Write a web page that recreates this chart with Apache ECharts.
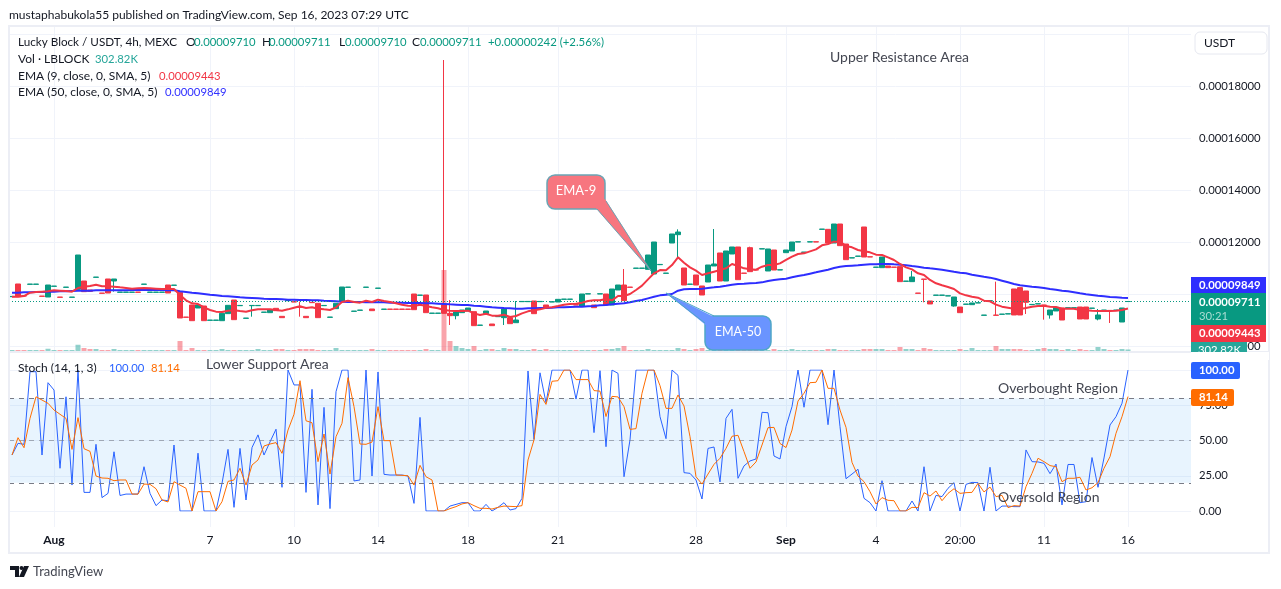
<!DOCTYPE html>
<html><head><meta charset="utf-8">
<style>html,body{margin:0;padding:0;background:#fff}#c{width:1281px;height:589px}</style>
<script src="https://cdn.jsdelivr.net/npm/echarts@6/dist/echarts.min.js"></script>
</head><body><div id="c"></div>
<script>
// prices are in units of 0.00000001 USDT
const tickBars=[7,33,47,61,76,91,114,129,144,158,172,186];
const tickLabels=['Aug','7','10','14','18','21','28','Sep','4','20:00','11','16'];
const opens=[9897,10385,9933,10372,10372,9920,9885,10295,9882,10256,
9872,10179,10500,10154,10641,10036,10577,10500,10064,10064,
10064,10074,10372,10064,10064,10064,10346,10333,10064,9113,
9577,9461,9538,8987,8987,8974,9244,9769,9551,9064,
9551,9551,9295,9282,9449,9141,9743,9702,9497,9141,
9677,9641,9551,9103,9436,9731,10256,9333,9372,10256,
9423,10218,9410,9420,9420,9420,9420,10000,9949,9961,
9256,9256,9577,9256,9167,9282,9346,9320,8795,9243,
8846,9128,9090,9090,8897,9705,9705,9731,9705,9577,
9692,9692,9795,9795,9587,9538,10000,9577,10000,10000,
9577,10154,10346,10266,10987,10987,10949,10769,11128,10795,
11961,12282,11000,10372,10731,10308,10461,11077,11577,10500,
11538,11808,10805,11782,10933,11731,10885,11692,10923,11590,
11654,12000,11602,12000,12010,12487,12487,11961,12692,11923,
11385,11449,12577,11433,11026,11013,11077,11036,11052,10487,
10475,10036,10574,9731,9949,9949,9923,9539,9500,9603,
9590,9654,9180,9731,9190,9218,9231,10193,10244,10116,
9590,9616,9574,9193,9347,9462,9462,9462,9500,9500,
9449,9039,9372,9369,9372,8923,9710];
const closes=[9907,9897,9923,10382,10382,9910,10346,10305,9872,10266,
9882,11500,10090,10102,10651,10026,10038,10577,10074,10074,
10074,10064,10382,10074,10074,10074,10038,10343,9077,9103,
8974,9577,8974,8997,8997,9256,9564,9013,9561,9074,
9561,9561,9305,9385,9359,9090,9753,9692,9487,9090,
9667,9090,9561,9113,9641,10269,10266,9343,9382,10266,
9359,10228,9420,9410,9410,9410,9410,9397,9959,9282,
9266,9266,9256,9167,9308,9385,9461,8782,8805,9346,
8782,9138,9423,8859,9000,9715,9715,9243,9715,9449,
9702,9795,9805,9805,9577,10000,10010,9474,10010,9577,
10192,10346,9744,10256,10997,10997,11500,12000,11138,10805,
12308,12384,10346,10382,10346,9961,11115,11154,10500,11654,
11808,10551,10795,10859,10923,11741,11731,10923,10933,11692,
12000,12010,11612,12010,12000,12497,11961,12692,11859,11320,
11395,11459,11423,11423,11036,11423,11013,11026,10475,10497,
10654,10026,10564,9616,9959,9959,9933,9885,9282,9613,
9654,9664,9190,9741,9180,9228,9241,9193,9193,9680,
9600,9626,9564,9385,9487,9000,9472,9472,9039,9039,
9459,9193,9382,9359,9382,9462,9711];
const wickBars=[17,40,48,72,73,74,82,84,102,111,117,123,150,152,157,164,169,172,173,181,183];
const wickHighs=[null,null,9705,19000,9769,null,null,9731,10961,12487,12500,11820,10885,null,null,10475,null,null,null,9423,null];
const wickLows=[10090,9128,9128,null,8808,9026,8808,null,null,11410,null,null,null,9680,9513,null,9231,9013,9052,8987,8885];
const ema9=[9897,9897,9923,10051,10077,10090,10102,10141,10128,10115,
10090,10231,10282,10308,10359,10295,10295,10282,10256,10231,
10205,10218,10231,10218,10205,10192,10192,10192,9961,9756,
9641,9615,9487,9385,9321,9308,9359,9372,9346,9321,
9372,9410,9410,9410,9385,9359,9410,9474,9526,9461,
9487,9436,9410,9385,9487,9692,9743,9692,9667,9743,
9692,9782,9731,9692,9641,9590,9551,9538,9590,9538,
9487,9449,9385,9359,9346,9346,9359,9256,9192,9243,
9167,9167,9205,9115,9154,9256,9333,9372,9410,9474,
9487,9538,9590,9615,9628,9667,9731,9756,9756,9808,
9756,9923,9923,10000,10154,10320,10564,10795,10923,10910,
11115,11410,11205,11025,10897,10731,10795,10859,10923,10987,
11154,11077,10987,10949,10936,11051,11115,11115,11179,11308,
11436,11538,11564,11641,11718,11872,11923,12013,12013,11846,
11795,11692,11641,11603,11513,11500,11410,11308,11154,11026,
10949,10795,10731,10539,10411,10334,10270,10193,10026,9949,
9898,9859,9744,9718,9590,9513,9475,9436,9423,9462,
9513,9539,9552,9513,9500,9436,9436,9436,9385,9372,
9359,9347,9347,9347,9359,9385,9443];
const ema50=[10051,10051,10064,10064,10077,10077,10090,10090,10102,10102,
10115,10128,10128,10128,10141,10141,10141,10141,10141,10141,
10154,10154,10154,10154,10154,10154,10141,10141,10102,10077,
10051,10026,10000,9974,9949,9923,9910,9897,9872,9859,
9846,9833,9820,9808,9808,9795,9782,9782,9769,9769,
9756,9756,9743,9731,9718,9705,9692,9692,9692,9679,
9679,9679,9679,9667,9667,9667,9654,9654,9654,9641,
9641,9628,9615,9602,9590,9577,9577,9551,9538,9513,
9487,9474,9461,9449,9436,9436,9449,9449,9461,9461,
9474,9487,9487,9500,9513,9513,9526,9538,9564,9577,
9602,9628,9641,9679,9731,9769,9833,9897,9948,9974,
10000,10128,10179,10192,10192,10205,10231,10256,10282,10320,
10359,10385,10397,10410,10423,10448,10500,10538,10564,10590,
10641,10692,10731,10782,10833,10885,10936,11000,11051,11077,
11090,11103,11129,11141,11141,11154,11154,11141,11129,11103,
11077,11052,11013,10987,10962,10936,10898,10859,10821,10795,
10744,10706,10667,10629,10577,10513,10449,10385,10334,10308,
10282,10257,10231,10193,10167,10129,10103,10065,10026,9988,
9962,9936,9911,9885,9872,9859,9849];
const volumesK=[200,200,200,200,200,200,450,200,200,200,
200,1250,600,400,400,200,200,400,200,200,
200,200,200,200,200,200,200,200,2000,200,
600,200,200,200,200,400,200,200,200,200,
200,400,200,200,400,400,200,200,400,400,
400,200,200,200,600,200,200,200,200,200,
400,200,200,200,200,200,200,200,200,400,
200,200,16200,2000,1000,600,400,1000,200,400,
400,200,600,400,400,200,200,400,200,400,
200,200,200,200,200,200,200,200,200,400,
400,600,1000,200,200,200,400,200,200,200,
200,600,400,200,400,600,200,1200,400,400,
200,600,200,400,200,200,200,400,200,200,
400,200,200,200,200,200,400,400,200,200,
200,200,400,400,400,400,200,200,800,400,
400,200,600,400,200,200,200,200,400,200,
600,200,200,200,1000,400,400,400,400,200,
200,400,600,400,400,200,400,200,400,200,
200,800,400,200,200,400,302.82];
const stochK=[39.7,48,47.3,98.8,98.8,39.7,91,85.8,30.3,81,
18.4,100,13.2,13.2,47.3,9.5,12.5,42,11,12,
12,12,31.4,12.5,3.8,7.8,7.3,46.8,0,0,
0,41,0,0,0,19.6,43.7,2.6,44.4,7.8,
45,54,39.7,49,58,16.8,100,89.4,89.4,13.2,
86.3,4.3,73.5,1.7,84.6,100,100,21.3,22,100,
24.8,98.6,26,25.5,25.5,25.5,24.8,5.4,66.4,0,
0,0,0,3.5,4.7,5.9,5.9,0,0,4.7,
0,2.6,5.9,0.7,1.7,9,99.3,50.8,98,76.8,
100,100,100,100,79.4,100,100,55.6,99.5,45.6,
100,97.6,24.3,50.4,100,100,100,100,66.9,51.3,
100,96.2,27.2,26.7,22,8.5,44.4,45.4,20.6,65.7,
72.1,23.2,32,35.5,36.9,70,69.7,39,36.9,59.9,
74,100,73.6,100,100,100,61.2,100,59.8,22.9,
26.2,29.6,9,5.9,0,21.5,0,0,0,0,
7.1,0,31.4,0,11.1,10.2,16.1,20.1,0,18.9,
20.3,20.1,0,31,0,3.5,3.5,3.1,3.1,43.3,
35,34.8,33.8,26.5,33.3,4.3,33,33,5.9,6.6,
37.9,16.8,37.6,61,66.9,76.4,100];
const stochD=[39.7,52,44.9,65.7,81,78.7,76.4,71.6,68.6,65.7,
43.7,66.2,44.2,42.3,24.8,23.4,23.2,21.5,22,22,
12,12,19.1,18.9,15.8,7.8,6.4,20.8,18.4,16.1,
0,13.7,13.7,13.7,0,6.6,21,22,30.3,18.4,
32.6,36.2,46.1,47.5,48.5,40.9,57.4,68.6,92.4,64,
62.6,35,54.6,26.2,52.7,62.2,94.6,74,47.5,47.3,
48.9,74,49.9,49.9,25.5,25.3,25,18.4,32.4,24.3,
22,0,0,1.7,3.1,5,5.9,3.8,1.9,1.9,
1.4,2.6,3.5,3.3,3.1,3.8,36.2,50.4,82.7,75.6,
92,92.4,100,100,93.2,93.2,93.2,85.4,85,67,
81.3,80.9,74,57.9,58.4,83.5,100,100,88.9,72.8,
72.8,82.3,74.5,52.7,24.3,19.1,26.2,33.1,37.4,44.4,
53,53.7,42.1,30.3,34.8,46.8,59.1,59.3,47.9,45,
57.4,78,83.5,91,91.3,100,87,87,71.6,59.3,
34.5,24.8,20.8,13.7,5,9.5,7.6,7.3,0,0,
2.6,2.4,13,10.6,14.2,7.3,12.5,15.8,12.5,13,
13.2,19.6,13.5,17,10.2,11.1,2.4,3.8,3.5,17.3,
26.7,37.4,35,32.2,31.4,20.8,23.2,23.2,23.9,14.9,
16.5,20.1,30.3,38.5,55.1,66.9,81.14];

const FONT='Lato, "Open Sans", sans-serif';
const NUM=11.3;
const UP='#089981',DOWN='#f23645',GRID='#f0f3fa',TXT='#131722',FRAME='#eceef5';
const BARS=197;
const categories=Array.from({length:BARS},(_,i)=>{const k=tickBars.indexOf(i);return k>=0?tickLabels[k]:''+i;});
const candles=opens.map((o,i)=>{
  const k=wickBars.indexOf(i);let lo=Math.min(o,closes[i]),hi=Math.max(o,closes[i]);
  if(k>=0){if(wickLows[k]!==null)lo=wickLows[k];if(wickHighs[k]!==null)hi=wickHighs[k];}
  return [o,closes[i],lo,hi];
});
const isTick=i=>tickBars.indexOf(i)>=0;
function xAxis(idx,labels,lines){return {type:'category',gridIndex:idx,data:categories,boundaryGap:true,
  axisLine:{show:false},axisTick:{show:false},
  axisLabel:{show:labels,interval:(i)=>isTick(i),color:TXT,fontFamily:FONT,fontSize:12,margin:7,
    formatter:v=>(v==='Aug'||v==='Sep')?'{b|'+v+'}':v,rich:{b:{fontWeight:'bold',fontFamily:FONT,fontSize:12,color:TXT}}},
  splitLine:{show:lines,interval:(i)=>isTick(i),alignWithLabel:true,lineStyle:{color:GRID,width:1}}};}
function T(x,y,text,fill,size,weight,align){return {type:'text',z:100,silent:true,x:x,y:y,
  style:{text:text,fill:fill||TXT,font:(weight||'normal')+' '+(size||12)+'px '+FONT,textAlign:align||'left',textVerticalAlign:'middle'}};}
function R(x,y,w,h,fill,r,stroke,lw,z){return {type:'rect',z:z||99,silent:true,shape:{x:x,y:y,width:w,height:h,r:r||0},
  style:{fill:fill,stroke:stroke||null,lineWidth:lw||0}};}
const GREENT='#089981';
const graphics=[
  R(9,26,1260,527,'rgba(0,0,0,0)',0,FRAME,2,90),
  {type:'line',z:90,silent:true,shape:{x1:9,y1:352,x2:1269,y2:352},style:{stroke:FRAME,lineWidth:2}},
  T(9,15,'mustaphabukola55 published on TradingView.com, Sep 16, 2023 07:29 UTC',TXT,12),
  T(18,42,'Lucky Block / USDT, 4h, MEXC',TXT,11.7),
  T(186,42,'O',TXT,12),T(194,42,'0.00009710',GREENT,NUM),
  T(262,42,'H',TXT,12),T(269,42,'0.00009711',GREENT,NUM),
  T(339,42,'L',TXT,12),T(345,42,'0.00009710',GREENT,NUM),
  T(412,42,'C',TXT,12),T(420,42,'0.00009711',GREENT,NUM),
  T(488,42,'+0.00000242 (+2.56%)',GREENT,11.4),
  T(18,59,'Vol · LBLOCK',TXT,12),T(95,59,'302.82K','#26a69a',NUM),
  T(18,76,'EMA (9, close, 0, SMA, 5)',TXT,12),T(159,76,'0.00009443','#f23645',NUM),
  T(18,92,'EMA (50, close, 0, SMA, 5)',TXT,12),T(165,92,'0.00009849','#3030ff',NUM),
  T(18,368,'Stoch (14, 1, 3)',TXT,12),T(109,368,'100.00','#2962ff',NUM),T(151,368,'81.14','#ff6d00',NUM),
  T(830,57,'Upper Resistance Area','#434651',14),
  T(206,364,'Lower Support Area','#434651',14),
  T(998,388,'Overbought Region','#434651',14),
  T(998,497,'Oversold Region','#434651',14),
  R(1195,32,72,22,'#fff',5,'#e6e8f0',1,99),T(1204,43,'USDT',TXT,12),
  R(1191,342,56,10,'#26a69a',0,null,0,95),T(1198,350,'302.82K','#fff',NUM),
  R(1191,352,78,8,'#fff',0,null,0,99),
  R(1191,277,75,16,'#2e2eff',0,null,0,96),T(1199,285,'0.00009849','#fff',NUM,'bold'),
  R(1191,293,75,32,'#089981',0,null,0,96),T(1199,302,'0.00009711','#fff',NUM,'bold'),T(1199,316,'30:21','#a9dcd2',NUM),
  R(1191,325,75,17,'#f23645',0,null,0,96),T(1199,333,'0.00009443','#fff',NUM,'bold'),
  R(1191,362,49,17,'#2962ff',2,null,0,96),T(1199,370.5,'100.00','#fff',NUM,'bold'),
  R(1191,389,43,17,'#ff6d00',2,null,0,96),T(1199,397.5,'81.14','#fff',NUM,'bold'),
  R(547,175,58,34,'#f7767f',8,'#6aa5b5',1.5,97),
  {type:'polygon',z:98,silent:true,shape:{points:[[595,207],[605,199],[651,271]]},style:{fill:'#f7767f'}},
  {type:'polyline',z:98,silent:true,shape:{points:[[597,209],[651,271],[606,201]]},style:{stroke:'#6aa5b5',lineWidth:1,fill:null}},
  T(576,191,'EMA-9','#fff',13,'normal','center'),
  R(705,316,66,34,'#6a94ff',8,'#4fa6c7',1.5,97),
  {type:'polygon',z:98,silent:true,shape:{points:[[707,326],[716,318],[666,293]]},style:{fill:'#6a94ff'}},
  {type:'polyline',z:98,silent:true,shape:{points:[[705,323],[666,293],[714,316]]},style:{stroke:'#4fa6c7',lineWidth:1,fill:null}},
  T(738,332,'EMA-50','#fff',12.5,'normal','center'),
  {type:'polygon',z:99,silent:true,shape:{points:[[10,566],[19,566],[19,577],[15,577],[15,570],[10,570]]},style:{fill:'#131722'}},
  {type:'circle',z:99,silent:true,shape:{cx:21.5,cy:568,r:2},style:{fill:'#131722'}},
  {type:'polygon',z:99,silent:true,shape:{points:[[24,566],[29,566],[24,577],[19,577]]},style:{fill:'#131722'}},
  T(33,572,'TradingView','#434651',13)
];
const option={
  animation:false,
  backgroundColor:'#fff',
  grid:[
    {left:9,width:1182,top:27,height:324},
    {left:9,width:1182,top:34,height:312},
    {left:9,width:1182,top:352,height:175},
    {left:9,width:1182,top:370,height:141}
  ],
  xAxis:[xAxis(0,false,true),xAxis(1,false,false),xAxis(2,true,true),xAxis(3,false,false)],
  yAxis:[
    {type:'value',gridIndex:0,min:0,max:64800,show:false,splitLine:{show:false}},
    {type:'value',gridIndex:1,min:8000,max:20000,interval:2000,position:'right',
      axisLine:{show:false},axisTick:{show:false},splitLine:{lineStyle:{color:GRID,width:1}},
      axisLabel:{color:TXT,fontFamily:FONT,fontSize:NUM,margin:8,formatter:v=>v>=20000?'':(v/1e8).toFixed(8)}},
    {type:'value',gridIndex:2,show:false,splitLine:{show:false}},
    {type:'value',gridIndex:3,min:0,max:100,interval:25,position:'right',
      axisLine:{show:false},axisTick:{show:false},splitLine:{lineStyle:{color:GRID,width:1}},
      axisLabel:{color:TXT,fontFamily:FONT,fontSize:NUM,margin:8,formatter:v=>v.toFixed(2)}}
  ],
  series:[
    {name:'Vol',type:'bar',xAxisIndex:0,yAxisIndex:0,barWidth:5,z:1,
     data:volumesK.map((v,i)=>({value:v,itemStyle:{color:closes[i]>=opens[i]?'rgba(38,166,154,.5)':'rgba(242,54,69,.45)'}}))},
    {name:'Price',type:'candlestick',xAxisIndex:1,yAxisIndex:1,barWidth:5,z:3,data:candles,
     itemStyle:{color:UP,color0:DOWN,borderColor:UP,borderColor0:DOWN,borderWidth:1},
     markLine:{silent:true,symbol:'none',label:{show:false},lineStyle:{color:UP,type:[1,2],width:1},data:[{yAxis:9711}]}},
    {name:'EMA 50',type:'line',xAxisIndex:1,yAxisIndex:1,data:ema50,showSymbol:false,z:4,lineStyle:{color:'#2e2eff',width:2}},
    {name:'EMA 9',type:'line',xAxisIndex:1,yAxisIndex:1,data:ema9,showSymbol:false,z:5,lineStyle:{color:'#f23645',width:2}},
    {name:'%K',type:'line',xAxisIndex:3,yAxisIndex:3,data:stochK,showSymbol:false,z:4,lineStyle:{color:'#2962ff',width:1},
     markArea:{silent:true,itemStyle:{color:'rgba(33,150,243,0.1)'},data:[[{yAxis:20},{yAxis:80}]]},
     markLine:{silent:true,symbol:'none',label:{show:false},data:[
       {yAxis:80,lineStyle:{color:'#787b86',type:[5,5],width:1}},
       {yAxis:50,lineStyle:{color:'rgba(120,123,134,.6)',type:[5,5],width:1}},
       {yAxis:20,lineStyle:{color:'#787b86',type:[5,5],width:1}}]}},
    {name:'%D',type:'line',xAxisIndex:3,yAxisIndex:3,data:stochD,showSymbol:false,z:5,lineStyle:{color:'#ff6d00',width:1}}
  ],
  graphic:{elements:graphics}
};
echarts.init(document.getElementById('c'),null,{renderer:'canvas'}).setOption(option);
</script></body></html>
